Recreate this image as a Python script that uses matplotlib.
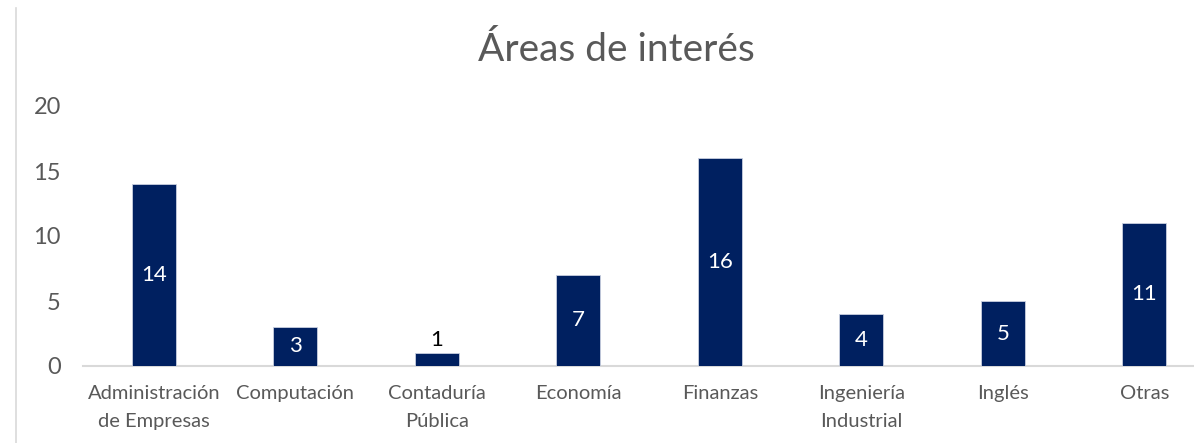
import matplotlib
matplotlib.use("Agg")
import matplotlib.pyplot as plt
from matplotlib.lines import Line2D

categories = ["Administración\nde Empresas", "Computación", "Contaduría\nPública",
              "Economía", "Finanzas", "Ingeniería\nIndustrial", "Inglés", "Otras"]
values = [14, 3, 1, 7, 16, 4, 5, 11]
yticks = [0, 5, 10, 15, 20]
title = "Áreas de interés"

plt.rcParams["font.family"] = ["Lato", "DejaVu Sans"]
bar_color = "#002060"
text_gray = "#595959"

fig = plt.figure(figsize=(11.94, 4.43), dpi=100)
ax = fig.add_axes([83 / 1194, 1 - 366 / 443, 1132 / 1194, 260 / 443])

x = list(range(len(categories)))
bars = ax.bar(x, values, width=0.31, color=bar_color, edgecolor="#c8cfe0", linewidth=0.6, zorder=3)

ax.set_xlim(-0.5, len(categories) - 0.5)
ax.set_ylim(0, 20)
ax.set_yticks(yticks)
ax.set_xticks(x)
ax.set_xticklabels(categories, fontsize=14.5, color=text_gray, linespacing=1.75)
ax.tick_params(axis="y", labelsize=17, colors=text_gray, length=0, pad=16)
ax.tick_params(axis="x", length=0, pad=14)

for side in ["left", "right", "top"]:
    ax.spines[side].set_visible(False)
ax.spines["bottom"].set_color("#d9d9d9")
ax.spines["bottom"].set_linewidth(1.5)

for rect, v in zip(bars, values):
    cx = rect.get_x() + rect.get_width() / 2
    if v >= 2:
        ax.text(cx, v / 2, str(v), ha="center", va="center", color="white", fontsize=16, zorder=4)
    else:
        ax.text(cx, v + 0.25, str(v), ha="center", va="bottom", color="black", fontsize=16, zorder=4)

fig.text(616 / 1194, 1 - 50 / 443, title, ha="center", va="center", fontsize=28, color=text_gray)

fig.add_artist(Line2D([16 / 1194, 16 / 1194], [0, 435 / 443], transform=fig.transFigure,
                      color="#d9d9d9", linewidth=1.2))

fig.savefig("out.png", dpi=100, facecolor="white")
